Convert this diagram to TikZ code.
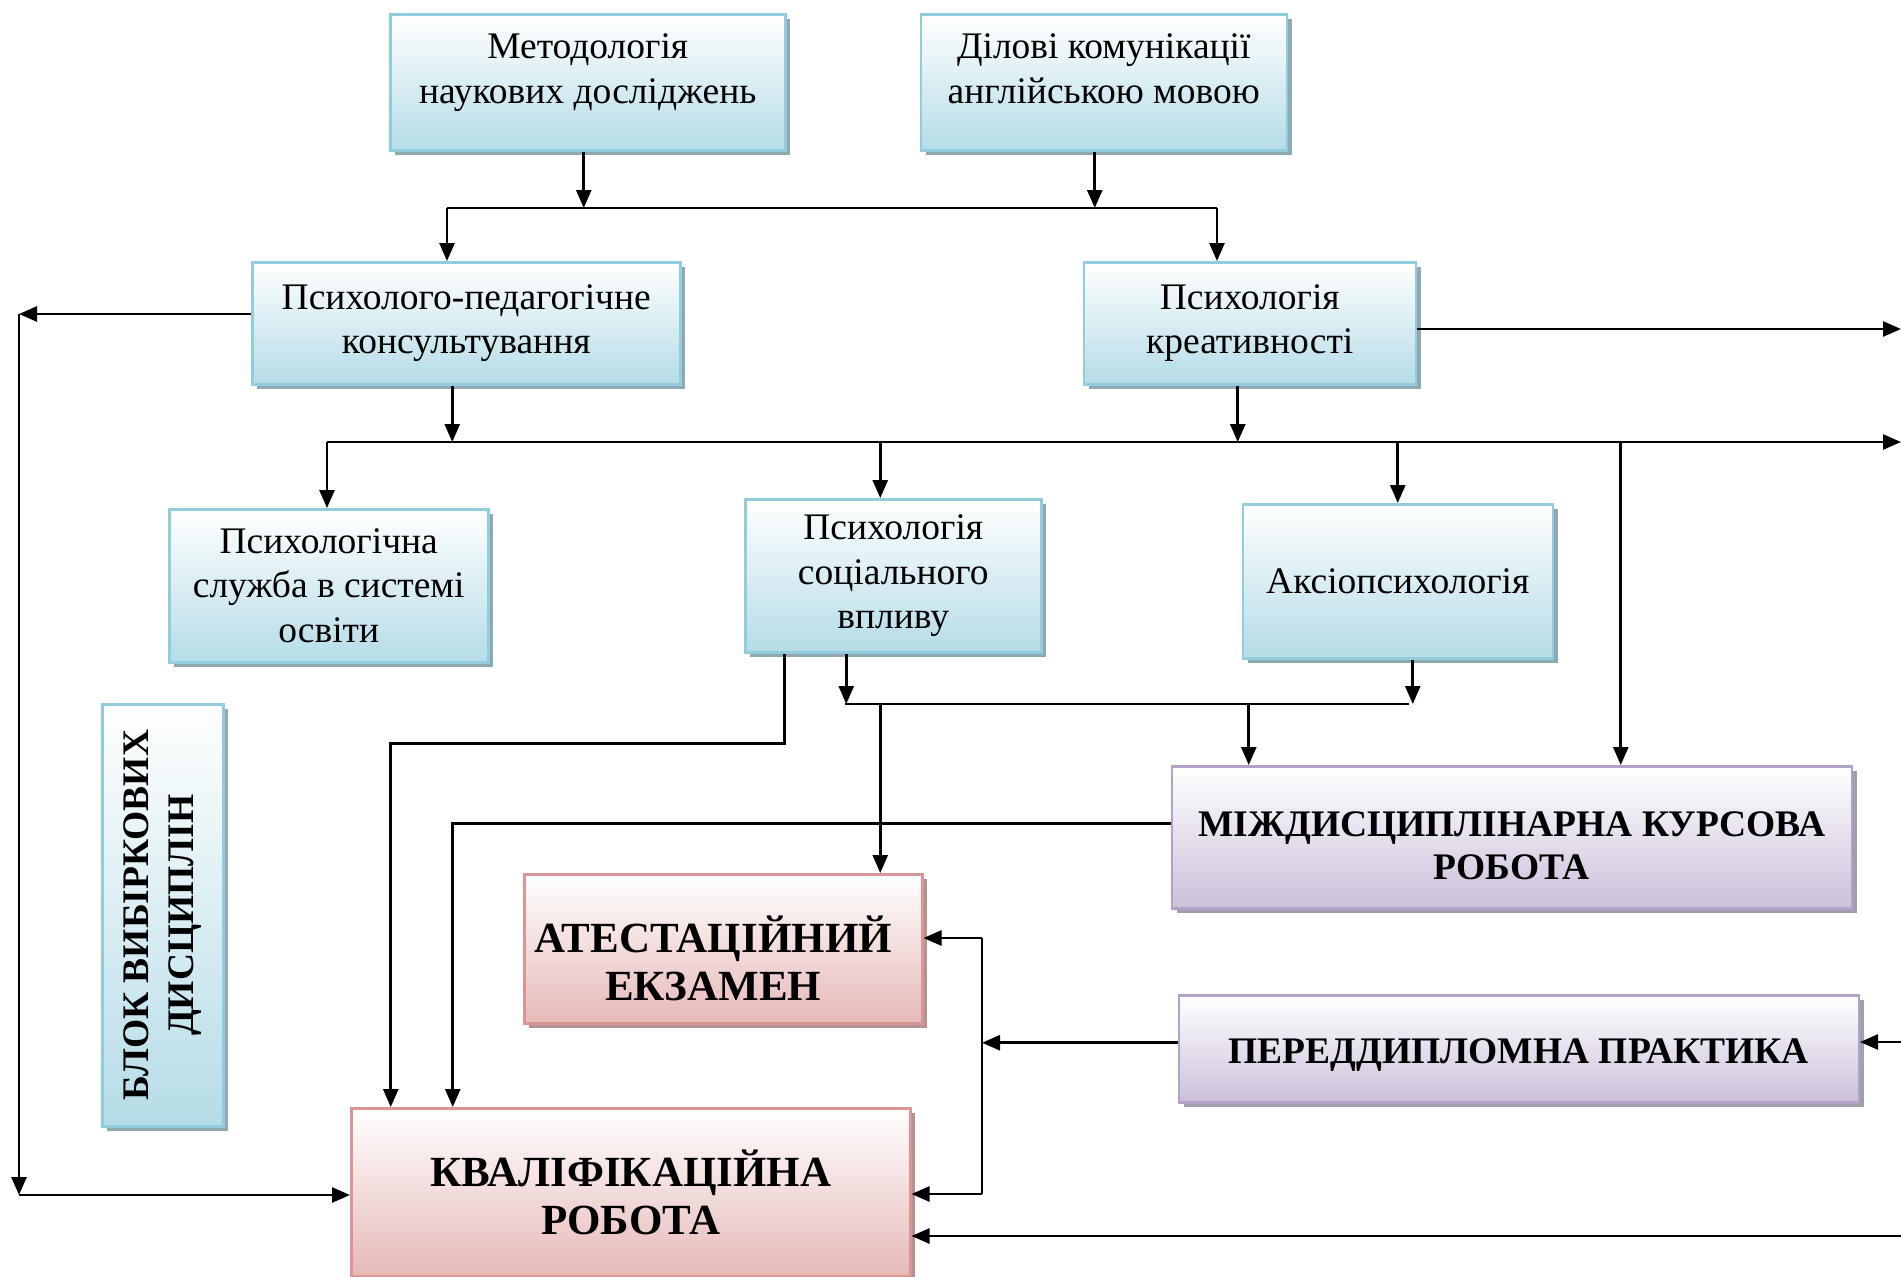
\documentclass[tikz,border=0pt]{standalone}
\usepackage{fontspec}
\setmainfont{Liberation Serif}
\usetikzlibrary{positioning,arrows.meta,shadows}
\definecolor{blueB}{HTML}{B5DCE7}
\definecolor{blueL}{HTML}{93CDDD}
\definecolor{blueS}{HTML}{8FA9B2}
\definecolor{pinkB}{HTML}{E6B9B8}
\definecolor{pinkL}{HTML}{D99694}
\definecolor{pinkS}{HTML}{B39392}
\definecolor{violB}{HTML}{CCC0DA}
\definecolor{violL}{HTML}{B3A2C7}
\definecolor{violS}{HTML}{A39DAE}
\tikzset{
  box/.style={draw, line width=2.5pt, inner sep=0pt, align=center, top color=white},
  bluebox/.style={box, draw=blueL, bottom color=blueB,
    font=\fontsize{37.5}{44.5}\selectfont,
    drop shadow={shadow xshift=5pt, shadow yshift=-5pt, fill=blueS, opacity=1}},
  pinkbox/.style={box, draw=pinkL, bottom color=pinkB,
    font=\fontsize{43}{48.5}\selectfont\bfseries,
    drop shadow={shadow xshift=5pt, shadow yshift=-5pt, fill=pinkS, opacity=1}},
  violbox/.style={box, draw=violL, bottom color=violB,
    font=\fontsize{37.5}{43}\selectfont\bfseries,
    drop shadow={shadow xshift=5pt, shadow yshift=-5pt, fill=violS, opacity=1}},
  wire/.style={line width=2.6pt},
  arr/.style={wire, -{Triangle[length=18pt,width=15pt]}}
}
\begin{document}
\begin{tikzpicture}[x=1pt, y=-1pt]
  \useasboundingbox (0,0) rectangle (1901,1277);
  \node [bluebox, anchor=north west, minimum width=395pt, minimum height=136pt, text depth=27pt] (met) at (389,13)
    {Методологія\\наукових досліджень};
  \node [bluebox, right=133pt of met, minimum width=366pt, minimum height=136pt, text depth=27pt] (dil)
    {Ділові комунікації\\англійською мовою};
  \node [bluebox, below right=248pt and -138pt of met.north west, minimum width=428pt, minimum height=122pt] (kons)
    {Психолого-педагогічне\\консультування};
  \node [bluebox, right=401pt of kons, minimum width=332pt, minimum height=122pt] (kreat)
    {Психологія\\креативності};
  \node [bluebox, below right=247pt and -83pt of kons.north west, minimum width=319pt, minimum height=153pt] (sluzh)
    {Психологічна\\служба в системі\\освіти};
  \node [bluebox, below right=237pt and 493pt of kons.north west, minimum width=296pt, minimum height=153pt] (vplyv)
    {Психологія\\соціального\\впливу};
  \node [bluebox, below right=242pt and 159pt of kreat.north west, minimum width=310pt, minimum height=154pt] (aksio)
    {Аксіопсихологія};
  \node [violbox, below right=262pt and -71pt of aksio.north west, minimum width=680pt, minimum height=142pt, text height=85pt] (mkr)
    {МІЖДИСЦИПЛІНАРНА КУРСОВА\\РОБОТА};
  \node [pinkbox, below right=375pt and -221pt of vplyv.north west, minimum width=398pt, minimum height=149pt, text height=104pt] (atest)
    {АТЕСТАЦІЙНИЙ\hspace*{20pt}\\ЕКЗАМЕН\hspace*{20pt}};
  \node [pinkbox, below right=234pt and -173pt of atest.north west, minimum width=559pt, minimum height=168pt] (kval)
    {КВАЛІФІКАЦІЙНА\\РОБОТА};
  \node [violbox, below right=229pt and 7pt of mkr.north west, minimum width=680pt, minimum height=107pt, text height=37pt] (prakt)
    {ПЕРЕДДИПЛОМНА ПРАКТИКА};
  \node [bluebox, below right=195pt and -67pt of sluzh.north west, minimum width=121pt, minimum height=422pt] (blok)
    {\rotatebox{90}{\parbox{400pt}{\centering\bfseries БЛОК ВИБІРКОВИХ\\ДИСЦИПЛІН}}};
  \coordinate (b1l) at (447,208);
  \coordinate (b1r) at (1217,208);
  \coordinate (lt) at (19,314);
  \coordinate (lb) at (19,1195);
  \coordinate (rt) at (1901,329);
  \coordinate (b2l) at (327,442);
  \coordinate (b2r) at (1901,442);
  \coordinate (b3l) at (845,704);
  \coordinate (b3r) at (1409,704);
  \coordinate (vt) at (982,938);
  \coordinate (vb) at (982,1194);
  \coordinate (rp) at (1901,1042);
  \coordinate (rk) at (1901,1236);
  \draw[arr] ([xshift=-4pt]met.south) -- ([xshift=-4pt]met.south |- b1l);
  \draw[arr] ([xshift=-9pt]dil.south) -- ([xshift=-9pt]dil.south |- b1l);
  \draw[wire] (b1l) -- (b1r);
  \draw[arr] (b1l) -- (b1l |- kons.north);
  \draw[arr] (b1r) -- (b1r |- kreat.north);
  \draw[arr] (kons.west |- lt) -- (lt);
  \draw[arr] (lt) -- (lb);
  \draw[arr] (lb) -- (lb -| kval.west);
  \draw[arr] (kreat.east |- rt) -- (rt);
  \draw[arr] ([xshift=-14pt]kons.south) -- ([xshift=-14pt]kons.south |- b2l);
  \draw[arr] ([xshift=-12pt]kreat.south) -- ([xshift=-12pt]kreat.south |- b2l);
  \draw[arr] (b2l) -- (b2r);
  \draw[arr] (b2l) -- (b2l |- sluzh.north);
  \draw[arr] ([xshift=-13pt]vplyv.north |- b2l) -- ([xshift=-13pt]vplyv.north);
  \draw[arr] (aksio.north |- b2l) -- (aksio.north);
  \draw[arr] ([xshift=109pt]mkr.north |- b2l) -- ([xshift=109pt]mkr.north);
  \draw[arr] ([xshift=-109pt]vplyv.south) -- ++(0,90) -| ([xshift=-240pt]kval.north);
  \draw[arr] ([xshift=-47pt]vplyv.south) -- ([xshift=-47pt]vplyv.south |- b3l);
  \draw[arr] ([xshift=15pt]aksio.south) -- ([xshift=15pt]aksio.south |- b3r);
  \draw[wire] (b3l) -- (b3r);
  \draw[arr] ([xshift=157pt]atest.north |- b3l) -- ([xshift=157pt]atest.north);
  \draw[arr] ([xshift=-263pt]mkr.north |- b3l) -- ([xshift=-263pt]mkr.north);
  \draw[arr] ([yshift=14pt]mkr.west) -| ([xshift=-178pt]kval.north);
  \draw[arr] ([yshift=6pt]prakt.west) -- ([yshift=6pt]prakt.west -| vt);
  \draw[wire] (vt) -- (vb);
  \draw[arr] (vt) -- (vt -| atest.east);
  \draw[arr] (vb) -- (vb -| kval.east);
  \draw[arr] (rp) -- (rp -| prakt.east);
  \draw[arr] (rk) -- (rk -| kval.east);
\end{tikzpicture}
\end{document}
